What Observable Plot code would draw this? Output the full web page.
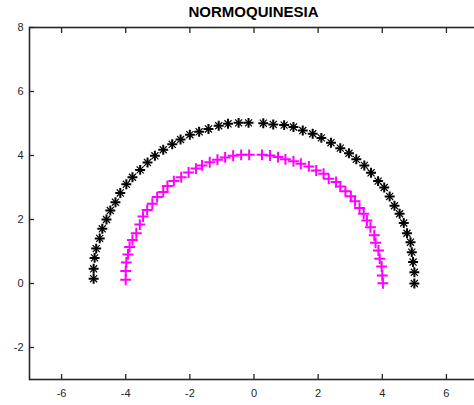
<!DOCTYPE html>
<html><head><meta charset="utf-8">
<script src="https://cdn.jsdelivr.net/npm/d3@7"></script>
<script src="https://cdn.jsdelivr.net/npm/@observablehq/plot@0.6"></script>
<style>
html,body{margin:0;padding:0;background:#fff;overflow:hidden;width:474px;height:405px;}
#wrap{position:relative;width:474px;height:405px;overflow:hidden;}
#chart{position:absolute;left:0;top:0;width:478px;}
#chart svg{max-width:none !important;}
#title{position:absolute;top:3px;left:29px;width:449px;text-align:center;font:bold 15px Arial,"Liberation Sans",Helvetica,sans-serif;line-height:18px;color:#000;}
</style></head><body><div id="wrap"><div id="chart"></div><div id="title"></div></div>
<script>
const title = "NORMOQUINESIA";
const xTicks = [-6, -4, -2, 0, 2, 4, 6];
const yTicks = [-2, 0, 2, 4, 6, 8];

const blackX = [-5.0,-5.0,-4.97,-4.92,-4.81,-4.73,-4.60,-4.48,-4.32,-4.17,
  -3.98,-3.79,-3.55,-3.32,-3.09,-2.83,-2.55,-2.29,-2.0,-1.71,
  -1.42,-1.10,-0.81,-0.48,-0.17,0.29,0.60,0.94,1.23,1.52,
  1.83,2.10,2.40,2.69,2.96,3.19,3.44,3.65,3.87,4.06,
  4.23,4.38,4.54,4.67,4.77,4.88,4.92,4.96,5.0,5.0];
const blackY = [0.15,0.46,0.80,1.09,1.41,1.71,2.0,2.28,2.54,2.83,
  3.10,3.32,3.55,3.78,3.99,4.18,4.35,4.50,4.65,4.74,
  4.83,4.93,4.99,5.02,5.02,5.01,4.97,4.95,4.89,4.78,
  4.68,4.55,4.40,4.23,4.07,3.88,3.69,3.46,3.20,3.0,
  2.72,2.43,2.18,1.89,1.57,1.29,0.98,0.67,0.35,0.0];

const magX = [-4.0,-4.0,-3.98,-3.93,-3.88,-3.79,-3.67,-3.56,-3.46,-3.33,
  -3.17,-3.02,-2.83,-2.70,-2.50,-2.27,-2.04,-1.81,-1.62,-1.38,
  -1.14,-0.90,-0.65,-0.40,-0.15,0.25,0.50,0.75,0.98,1.23,
  1.46,1.71,1.94,2.17,2.33,2.56,2.69,2.85,3.02,3.15,
  3.29,3.42,3.52,3.63,3.75,3.79,3.88,3.92,3.98,4.0,4.02];
const magY = [0.12,0.39,0.66,0.91,1.14,1.36,1.57,1.84,2.09,2.30,
  2.49,2.70,2.86,3.05,3.20,3.32,3.47,3.59,3.69,3.79,
  3.87,3.94,3.99,4.02,4.02,4.02,4.0,3.95,3.88,3.82,
  3.74,3.66,3.53,3.43,3.27,3.17,3.03,2.88,2.73,2.57,
  2.36,2.18,1.97,1.76,1.51,1.27,1.03,0.77,0.53,0.25,0.01];

const black = blackX.map((x, i) => ({x, y: blackY[i]}));
const mag = magX.map((x, i) => ({x, y: magY[i]}));

document.getElementById("title").textContent = title;

const axisColor = "#262626";
const fmt = d => String(d);
const blank = () => "";

const chart = Plot.plot({
  width: 478,
  height: 405,
  marginLeft: 29,
  marginRight: 0,
  marginTop: 27,
  marginBottom: 26,
  style: {fontFamily: 'Arial, "Liberation Sans", Helvetica, sans-serif', fontSize: "11px", color: axisColor, background: "transparent", maxWidth: "none"},
  x: {domain: [-7, 7]},
  y: {domain: [-3, 8]},
  marks: [
    Plot.axisX(xTicks, {anchor: "bottom", tickSize: 0, tickPadding: 10, tickFormat: fmt, label: null, color: axisColor}),
    Plot.axisX(xTicks, {anchor: "bottom", tickSize: -5, tickFormat: blank, label: null, color: axisColor, strokeWidth: 1.3}),
    Plot.axisX(xTicks, {anchor: "top", tickSize: -5, tickFormat: blank, label: null, color: axisColor, strokeWidth: 1.3}),
    Plot.axisY(yTicks, {anchor: "left", tickSize: 0, tickPadding: 6, tickFormat: fmt, label: null, color: axisColor}),
    Plot.axisY(yTicks, {anchor: "left", tickSize: -5, tickFormat: blank, label: null, color: axisColor, strokeWidth: 1.3}),
    Plot.axisY(yTicks, {anchor: "right", tickSize: -5, tickFormat: blank, label: null, color: axisColor, strokeWidth: 1.3}),
    Plot.frame({stroke: axisColor, strokeWidth: 1.6}),
    Plot.dot(black, {x: "x", y: "y", symbol: "times", r: 3.3, stroke: "#000", fill: "none", strokeWidth: 1.2}),
    Plot.dot(black, {x: "x", y: "y", symbol: "plus", r: 3.3, stroke: "#000", fill: "none", strokeWidth: 2}),
    Plot.dot(mag, {x: "x", y: "y", symbol: "plus", r: 3.6, stroke: "#ff00ff", fill: "none", strokeWidth: 2})
  ]
});
document.getElementById("chart").appendChild(chart);
</script>
</body></html>
